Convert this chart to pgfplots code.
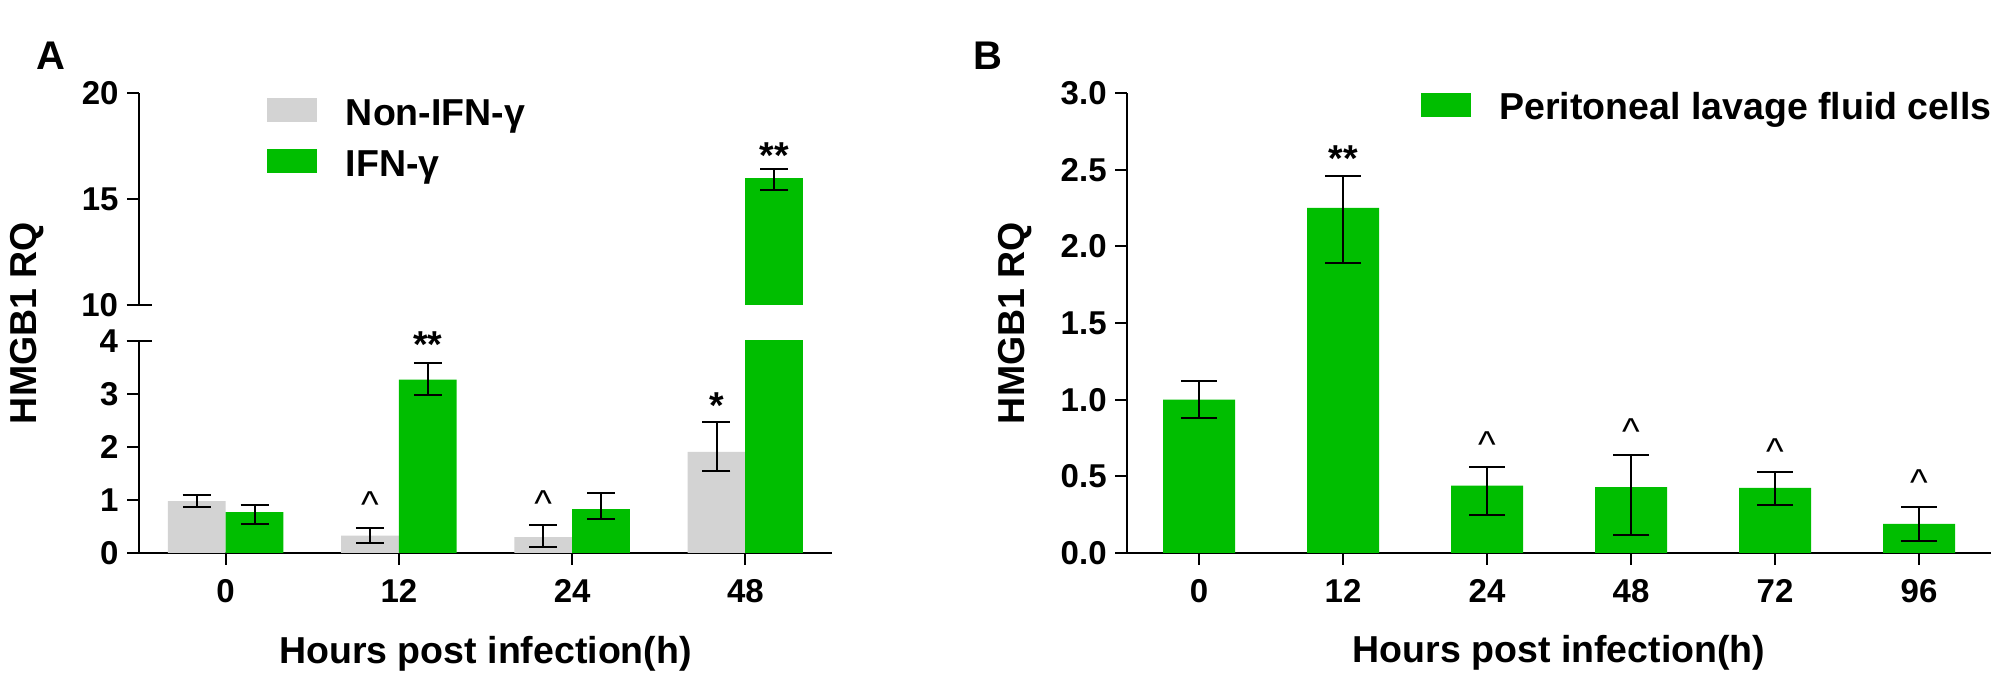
\documentclass[border=0pt]{standalone}
\usepackage{fontspec}
\setmainfont{Liberation Sans}
\usepackage{pgfplots}
\pgfplotsset{compat=1.18}
\definecolor{gbar}{RGB}{0,190,0}
\definecolor{gybar}{RGB}{211,211,211}
\newcommand\bigf{\fontsize{18.75}{20}\selectfont\bfseries}
\newcommand\tickf{\fontsize{16.5}{18}\selectfont\bfseries}
\newcommand\annf{\fontsize{18.75}{20}\selectfont}
\newcommand\letf{\fontsize{20}{22}\selectfont\bfseries}

\pgfplotsset{
  common/.style={
    scale only axis,
    /pgf/number format/assume math mode=true,
    tick label style={font=\tickf},
    axis line style={line width=0.9pt, -},
    tick style={line width=0.9pt, black},
    major tick length=6pt,
    tick align=outside,
    yticklabel style={anchor=east, inner sep=0pt, xshift=-4pt},
    xticklabel style={anchor=base, inner sep=0pt, yshift=-19pt},
    clip mode=individual,
    legend image code/.code={\fill[##1, draw=none] (0pt,-3.5pt) rectangle (25pt,8.5pt);},
    legend cell align=left,
    legend style={draw=none, fill=none, inner sep=0pt, outer sep=0pt,
      column sep=14.5pt, row sep=8.5pt, anchor=north west,
      nodes={inner sep=0pt, text height=13.5pt, text depth=3.5pt, font=\bigf}},
    label style={font=\bigf},
  },
  ebA/.style={error bars/.cd, y dir=both, y explicit,
    error bar style={line width=1pt, black},
    error mark options={rotate=90, mark size=7pt, line width=1pt, black}},
  ebB/.style={error bars/.cd, y dir=both, y explicit,
    error bar style={line width=1pt, black},
    error mark options={rotate=90, mark size=9pt, line width=1pt, black}},
}

\begin{document}
\begin{tikzpicture}
\path[use as bounding box] (0,0) rectangle (1000pt,339pt);

% ---------- Panel A, lower segment ----------
\begin{axis}[common,
  at={(69.5pt,62.5pt)}, anchor=south west,
  width=346.5pt, height=106pt,
  xmin=-0.5, xmax=3.5, ymin=0, ymax=4,
  axis x line*=bottom, axis y line*=left,
  xtick={0,1,2,3}, xticklabels={0,12,24,48},
  ytick={0,1,2,3}, extra y ticks={4}, extra y tick labels={4},
  extra y tick style={tick align=center, major tick length=12.5pt},
  xlabel={Hours post infection(h)},
  xlabel style={at={(axis description cs:0.5,-0.519)}, anchor=base},
  ylabel={HMGB1 RQ},
  ylabel style={at={(axis description cs:-0.1616,1.085)}, anchor=center},
]
\addplot[ybar, bar shift=0pt, bar width=0.333, fill=gybar, draw=none, ebA]
  coordinates {(-0.1667,0.98) += (0,0.12) -= (0,0.11)
               (0.8333,0.33) += (0,0.15) -= (0,0.15)
               (1.8333,0.30) += (0,0.23) -= (0,0.18)
               (2.8333,1.91) += (0,0.56) -= (0,0.36)};
\addplot[ybar, bar shift=0pt, bar width=0.333, fill=gbar, draw=none, ebA]
  coordinates {(0.1667,0.77) += (0,0.13) -= (0,0.22)
               (1.1667,3.27) += (0,0.32) -= (0,0.28)
               (2.1667,0.83) += (0,0.31) -= (0,0.18)};
\addplot[ybar, bar shift=0pt, bar width=0.333, fill=gbar, draw=none]
  coordinates {(3.1667,16.0)};
\node[anchor=base, font=\annf] at (axis cs:0.8333,0.67) {\textasciicircum};
\node[anchor=base, font=\annf] at (axis cs:1.8333,0.69) {\textasciicircum};
\node[anchor=base, font=\bigf] at (axis cs:1.1667,3.68) {**};
\node[anchor=base, font=\bigf] at (axis cs:2.8333,2.53) {*};
\end{axis}

% ---------- Panel A, upper segment ----------
\begin{axis}[common,
  at={(69.5pt,186.5pt)}, anchor=south west,
  width=346.5pt, height=106pt,
  xmin=-0.5, xmax=3.5, ymin=10, ymax=20,
  axis x line=none, axis y line*=left,
  ytick={15,20}, extra y ticks={10}, extra y tick labels={10},
  extra y tick style={tick align=center, major tick length=12.5pt},
  legend style={at={(0.1847,0.976)}},
]
\addlegendimage{fill=gybar, draw=none}
\addlegendentry{Non-IFN-γ}
\addlegendimage{fill=gbar, draw=none}
\addlegendentry{IFN-γ}
\addplot[forget plot, ybar, bar shift=0pt, bar width=0.333, fill=gbar, draw=none, ebA]
  coordinates {(3.1667,16.0) += (0,0.42) -= (0,0.58)};
\node[anchor=base, font=\bigf] at (axis cs:3.1667,16.46) {**};
\end{axis}

% ---------- Panel B ----------
\begin{axis}[common,
  at={(563.5pt,62.5pt)}, anchor=south west,
  width=432pt, height=230pt,
  xmin=-0.5, xmax=5.5, ymin=0, ymax=3,
  axis x line*=bottom, axis y line*=left,
  xtick={0,1,2,3,4,5}, xticklabels={0,12,24,48,72,96},
  ytick={0,0.5,1,1.5,2,2.5,3},
  yticklabel style={/pgf/number format/.cd, fixed, fixed zerofill, precision=1},
  xlabel={Hours post infection(h)},
  xlabel style={at={(axis description cs:0.5,-0.239)}, anchor=base},
  ylabel={HMGB1 RQ},
  ylabel style={at={(axis description cs:-0.1296,0.5)}, anchor=center},
  legend style={at={(0.3397,1.0)}},
]
\addplot[ybar, bar shift=0pt, bar width=0.5, fill=gbar, draw=none, ebB]
  coordinates {(0,1.00) += (0,0.12) -= (0,0.12)
               (1,2.25) += (0,0.21) -= (0,0.36)
               (2,0.44) += (0,0.12) -= (0,0.19)
               (3,0.43) += (0,0.21) -= (0,0.31)
               (4,0.425) += (0,0.105) -= (0,0.115)
               (5,0.19) += (0,0.11) -= (0,0.115)};
\addlegendentry{Peritoneal lavage fluid cells}
\node[anchor=base, font=\bigf] at (axis cs:1,2.49) {**};
\node[anchor=base, font=\annf] at (axis cs:2,0.626) {\textasciicircum};
\node[anchor=base, font=\annf] at (axis cs:3,0.706) {\textasciicircum};
\node[anchor=base, font=\annf] at (axis cs:4,0.58) {\textasciicircum};
\node[anchor=base, font=\annf] at (axis cs:5,0.372) {\textasciicircum};
\end{axis}

\node[font=\letf] at (25.5pt,311.25pt) {A};
\node[font=\letf] at (494pt,311.25pt) {B};
\end{tikzpicture}
\end{document}
